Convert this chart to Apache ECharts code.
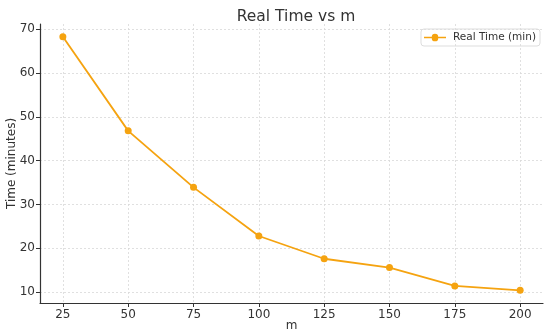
<!DOCTYPE html>
<html>
<head>
<meta charset="utf-8">
<script src="https://cdn.jsdelivr.net/npm/echarts@6/dist/echarts.min.js"></script>
<style>html,body{margin:0;padding:0;background:#fff}#c{width:550px;height:335px}</style>
</head>
<body>
<div id="c"></div>
<script>
const mValues = [25, 50, 75, 100, 125, 150, 175, 200];
const realTime = [68.3, 46.8, 33.9, 22.8, 17.6, 15.6, 11.4, 10.4];
const xTicks = [25, 50, 75, 100, 125, 150, 175, 200];
const yTicks = [10, 20, 30, 40, 50, 60, 70];

const font = 'DejaVu Sans';
const chart = echarts.init(document.getElementById('c'), null, {renderer: 'canvas'});
chart.setOption({
  animation: false,
  backgroundColor: '#fff',
  textStyle: {fontFamily: font},
  title: {
    text: 'Real Time vs m', left: 291, top: 4, textAlign: 'center',
    textStyle: {fontFamily: font, fontSize: 15.5, fontWeight: 'normal', color: '#333'}
  },
  legend: {
    right: 10, top: 29,
    padding: [3, 4, 3, 3], itemGap: 4, itemWidth: 22, itemHeight: 8,
    borderColor: '#ddd', borderWidth: 1, borderRadius: 3,
    textStyle: {fontFamily: font, fontSize: 10.5, color: '#333', padding: [0, 0, 0, 2]},
    data: [{name: 'Real Time (min)', icon: 'path://M0,3.3 L8.5,3.3 A3.2,3.2 0 0 1 15.5,3.3 L24,3.3 L24,4.7 L15.5,4.7 A3.2,3.2 0 0 1 8.5,4.7 L0,4.7 Z'}]
  },
  grid: {left: 40, right: 7, top: 24, bottom: 32, outerBoundsMode: 'none', containLabel: false},
  xAxis: {
    type: 'value', min: 16.25, max: 208.75,
    name: 'm', nameLocation: 'middle', nameGap: 17, nameMoveOverlap: false,
    nameTextStyle: {fontFamily: font, fontSize: 12, color: '#333'},
    axisLine: {show: true, onZero: false, lineStyle: {color: '#333', width: 1.2}},
    axisTick: {show: true, length: 4, customValues: xTicks, lineStyle: {color: '#333'}},
    axisLabel: {customValues: xTicks, fontFamily: font, fontSize: 12, color: '#333', margin: 6},
    splitLine: {show: true, lineStyle: {color: '#d9d9d9', type: [2, 2], width: 0.8}}
  },
  yAxis: {
    type: 'value', min: 7.5, max: 71.2,
    name: 'Time (minutes)', nameLocation: 'middle', nameGap: 22, nameMoveOverlap: false,
    nameTextStyle: {fontFamily: font, fontSize: 12, color: '#333'},
    axisLine: {show: true, onZero: false, lineStyle: {color: '#333', width: 1.2}},
    axisTick: {show: true, length: 4, customValues: yTicks, lineStyle: {color: '#333'}},
    axisLabel: {customValues: yTicks, fontFamily: font, fontSize: 12, color: '#333', margin: 5},
    splitLine: {show: true, lineStyle: {color: '#d9d9d9', type: [2, 2], width: 0.8}}
  },
  series: [{
    name: 'Real Time (min)', type: 'line',
    data: mValues.map((m, i) => [m, realTime[i]]),
    symbol: 'circle', symbolSize: 7,
    lineStyle: {color: '#F5A310', width: 1.8},
    itemStyle: {color: '#F5A310'}
  }]
});
</script>
</body>
</html>
